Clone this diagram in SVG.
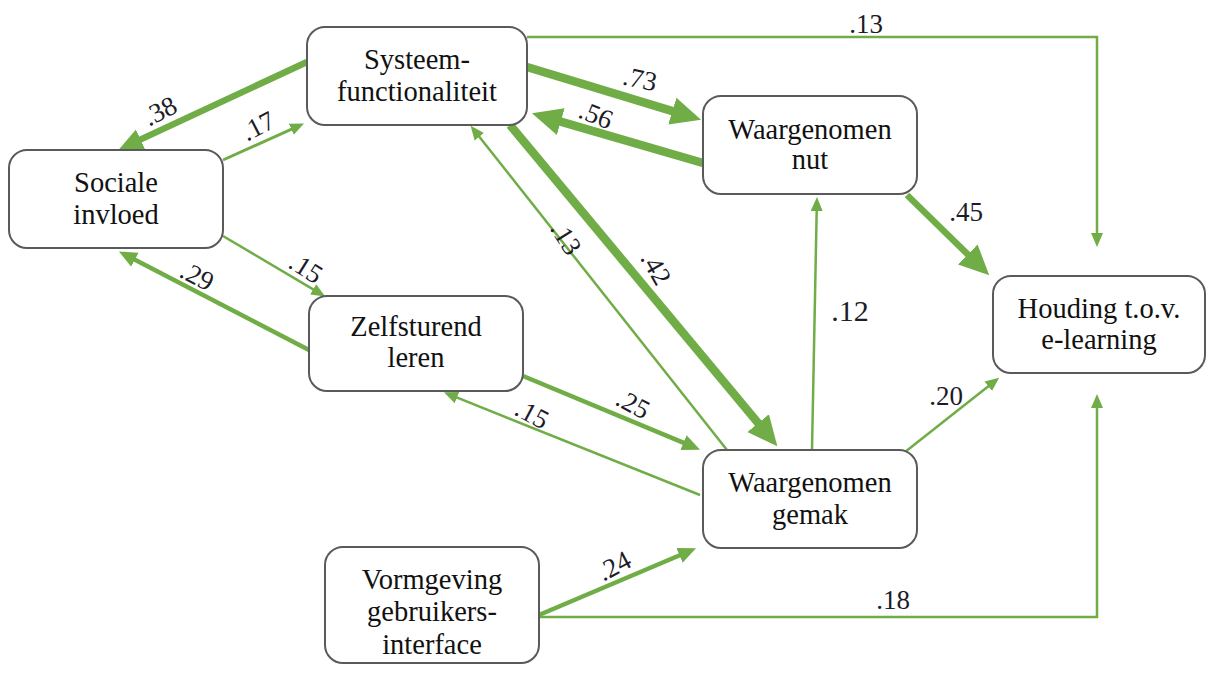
<svg xmlns="http://www.w3.org/2000/svg" width="1208" height="682" viewBox="0 0 1208 682">
<style>
.box{fill:#fff;stroke:#5a5a5a;stroke-width:2}
.nt{font-family:"Liberation Serif","Times New Roman",serif;font-size:28.5px;fill:#111;text-anchor:middle}
.c{fill:none;stroke:#70ad47;stroke-linejoin:miter}
.w1{stroke-width:2.5}.w2{stroke-width:3}.w3{stroke-width:4.5}.w4{stroke-width:6.5}.w5{stroke-width:8.5}
.lb{font-family:"Liberation Serif","Times New Roman",serif;font-size:27px;fill:#1c1c28;text-anchor:middle;dominant-baseline:central}
</style>
<defs>
<marker id="s" markerUnits="userSpaceOnUse" markerWidth="16" markerHeight="14" viewBox="0 -7 16 14" refX="1" refY="0" orient="auto"><path d="M0,-6 L14,0 L0,6 Z" fill="#70ad47"/></marker>
<marker id="m" markerUnits="userSpaceOnUse" markerWidth="20" markerHeight="18" viewBox="0 -9 20 18" refX="1" refY="0" orient="auto"><path d="M0,-8 L18,0 L0,8 Z" fill="#70ad47"/></marker>
<marker id="l" markerUnits="userSpaceOnUse" markerWidth="26" markerHeight="24" viewBox="0 -12 26 24" refX="1" refY="0" orient="auto"><path d="M0,-11 L24,0 L0,11 Z" fill="#70ad47"/></marker>
<marker id="xl" markerUnits="userSpaceOnUse" markerWidth="32" markerHeight="30" viewBox="0 -15 32 30" refX="1" refY="0" orient="auto"><path d="M0,-14 L30,0 L0,14 Z" fill="#70ad47"/></marker>
</defs>
<rect width="1208" height="682" fill="#fff"/>
<g id="connectors">
<line class="c w4" x1="307" y1="62" x2="139.7" y2="139.9" marker-end="url(#l)"/>
<line class="c w2" x1="223" y1="160" x2="292.2" y2="128.8" marker-end="url(#s)"/>
<line class="c w1" x1="223" y1="236" x2="314" y2="289.9" marker-end="url(#s)"/>
<line class="c w3" x1="309" y1="350" x2="134" y2="259.3" marker-end="url(#m)"/>
<line class="c w5" x1="527" y1="67" x2="673.3" y2="111.4" marker-end="url(#xl)"/>
<line class="c w5" x1="703" y1="163" x2="559.8" y2="121.4" marker-end="url(#xl)"/>
<path class="c w1" d="M527,37 H1097 V234" marker-end="url(#s)"/>
<line class="c w1" x1="727" y1="450" x2="478.7" y2="136" marker-end="url(#s)"/>
<line class="c w5" x1="510" y1="125" x2="758.8" y2="423.9" marker-end="url(#xl)"/>
<line class="c w4" x1="907" y1="195" x2="968.5" y2="255.1" marker-end="url(#xl)"/>
<line class="c w1" x1="812" y1="450" x2="816.7" y2="210" marker-end="url(#s)"/>
<line class="c w3" x1="523" y1="376" x2="684.4" y2="443.1" marker-end="url(#m)"/>
<line class="c w1" x1="700" y1="495" x2="456" y2="397.2" marker-end="url(#s)"/>
<line class="c w1" x1="905" y1="452" x2="989" y2="385.7" marker-end="url(#s)"/>
<line class="c w3" x1="539" y1="615" x2="680.4" y2="555" marker-end="url(#m)"/>
<path class="c w1" d="M539,617 H1097 V407" marker-end="url(#s)"/>
<text class="lb" transform="translate(160,111) rotate(-27)">.38</text>
<text class="lb" transform="translate(258,126) rotate(-27)">.17</text>
<text class="lb" transform="translate(306,268) rotate(32)">.15</text>
<text class="lb" transform="translate(197,276) rotate(27)">.29</text>
<text class="lb" transform="translate(640,79) rotate(12)">.73</text>
<text class="lb" transform="translate(596,115) rotate(22)">.56</text>
<text class="lb" x="866" y="24">.13</text>
<text class="lb" transform="translate(566,238) rotate(58)">.13</text>
<text class="lb" transform="translate(656,268) rotate(60)">.42</text>
<text class="lb" x="966" y="212">.45</text>
<text class="lb" x="850" y="310" style="font-size:30px">.12</text>
<text class="lb" transform="translate(633,404) rotate(28)">.25</text>
<text class="lb" transform="translate(532,414) rotate(28)">.15</text>
<text class="lb" x="946" y="396">.20</text>
<text class="lb" transform="translate(614,566) rotate(-28)">.24</text>
<text class="lb" x="893" y="600">.18</text>
</g>
<g id="systeem"><rect class="box" x="307" y="27" width="220" height="98" rx="18"/><text class="nt" x="417" y="69">Systeem-</text><text class="nt" x="417" y="101">functionaliteit</text></g>
<g id="sociale"><rect class="box" x="9" y="150" width="214" height="98" rx="18"/><text class="nt" x="116" y="192">Sociale</text><text class="nt" x="116" y="224">invloed</text></g>
<g id="zelfsturend"><rect class="box" x="309" y="296" width="214" height="95" rx="18"/><text class="nt" x="416" y="336">Zelfsturend</text><text class="nt" x="416" y="367">leren</text></g>
<g id="nut"><rect class="box" x="703" y="96" width="214" height="98" rx="18"/><text class="nt" x="810" y="139">Waargenomen</text><text class="nt" x="810" y="169">nut</text></g>
<g id="gemak"><rect class="box" x="703" y="450" width="214" height="98" rx="18"/><text class="nt" x="810" y="492">Waargenomen</text><text class="nt" x="810" y="524">gemak</text></g>
<g id="houding"><rect class="box" x="993" y="276" width="212" height="97" rx="18"/><text class="nt" x="1099" y="318">Houding t.o.v.</text><text class="nt" x="1099" y="349">e-learning</text></g>
<g id="vormgeving"><rect class="box" x="325" y="547" width="214" height="116" rx="18"/><text class="nt" x="432" y="589">Vormgeving</text><text class="nt" x="432" y="621">gebruikers-</text><text class="nt" x="432" y="654">interface</text></g>
</svg>
